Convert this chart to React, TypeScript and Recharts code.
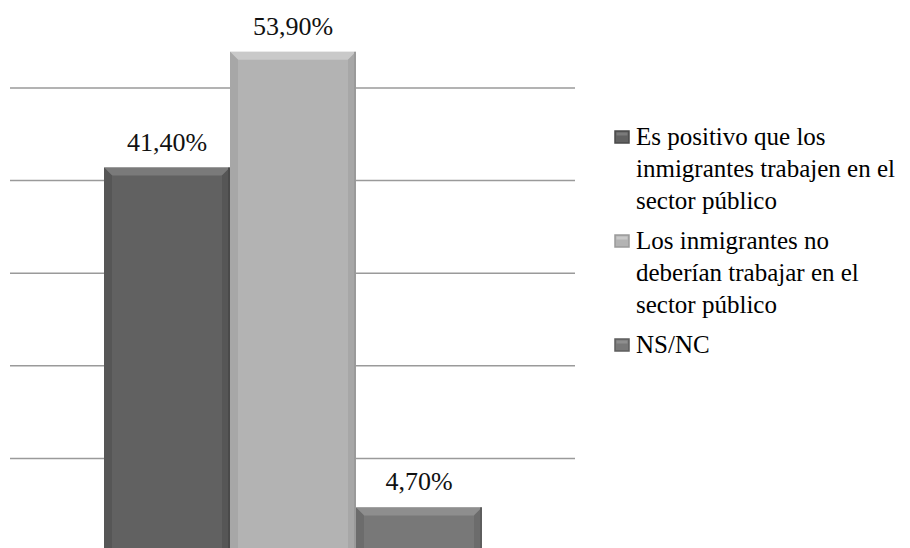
import React from 'react';
import { BarChart, Bar, XAxis, YAxis, CartesianGrid, LabelList, Legend } from 'recharts';

const categories = [''];
const seriesNames = [
  'Es positivo que los inmigrantes trabajen en el sector público',
  'Los inmigrantes no deberían trabajar en el sector público',
  'NS/NC',
];
const seriesKeys = ['positivo', 'noDeberian', 'nsnc'];
const positivoValues = [41.4];
const noDeberianValues = [53.9];
const nsncValues = [4.7];
const yTicks = [0, 10, 20, 30, 40, 50];
const legendLines = [
  ['Es positivo que los', 'inmigrantes trabajen en el', 'sector público'],
  ['Los inmigrantes no', 'deberían trabajar en el', 'sector público'],
  ['NS/NC'],
];

const FONT = 'Liberation Serif';

const colors = [
  { face: '#616161', top: '#7a7a7a', side: '#565656', edge: '#4a4a4a' },
  { face: '#b3b3b3', top: '#c9c9c9', side: '#a7a7a7', edge: '#9a9a9a' },
  { face: '#787878', top: '#8e8e8e', side: '#6c6c6c', edge: '#5e5e5e' },
];

const data = categories.map((c, i) => ({
  name: c,
  positivo: positivoValues[i],
  noDeberian: noDeberianValues[i],
  nsnc: nsncValues[i],
}));

const fmt = (v: number) => v.toFixed(2).replace('.', ',') + '%';

const makeShape = (idx: number) => (props: any) => {
  const { x, y, width, height } = props;
  if (width == null || height == null) return null;
  const c = colors[idx];
  const b = 8;
  const bot = y + height;
  return (
    <g>
      <rect x={x} y={y} width={width} height={height} fill={c.face} />
      <polygon points={`${x},${y} ${x + width},${y} ${x + width - b},${y + b} ${x + b},${y + b}`} fill={c.top} />
      <polygon points={`${x},${y} ${x + b},${y + b} ${x + b},${bot} ${x},${bot}`} fill={c.side} />
      <polygon points={`${x + width},${y} ${x + width - b},${y + b} ${x + width - b},${bot} ${x + width},${bot}`} fill={c.side} />
      <rect x={x + width - 2} y={y} width={2} height={height} fill={c.edge} />
    </g>
  );
};

const renderLabel = (props: any) => {
  const { x, y, width, value } = props;
  const cx = Number(x) + Number(width) / 2;
  const cy = Number(y) - 17;
  return (
    <text x={cx} y={cy} textAnchor="middle" fontFamily={FONT} fontSize={26} fill="#111">
      {fmt(Number(value))}
    </text>
  );
};

const LINE_H = 32;
const ITEM_GAP = 8;

const LegendContent = () => {
  let yy = 0;
  const items = legendLines.map((lines, i) => {
    const top = yy;
    yy += lines.length * LINE_H + ITEM_GAP;
    return (
      <g key={seriesKeys[i]}>
        <rect x={3} y={top + 10} width={14} height={12} fill={colors[i].face} stroke={colors[i].edge} strokeWidth={1.5} />
        <rect x={4.5} y={top + 11.5} width={11} height={3} fill={colors[i].top} />
        {lines.map((l, j) => (
          <text key={j} x={24} y={top + j * LINE_H + 24} fontFamily={FONT} fontSize={25} fill="#000">
            {l}
          </text>
        ))}
      </g>
    );
  });
  return (
    <svg width={298} height={yy} style={{ display: 'block' }}>
      {items}
    </svg>
  );
};

export default function App() {
  return (
    <div style={{ position: 'absolute', left: 0, top: 0, width: 910, height: 548, overflow: 'hidden', background: '#fff' }}>
      <BarChart
        width={910}
        height={551}
        data={data}
        margin={{ top: 0, right: 335, bottom: 0, left: 10 }}
        barGap={0}
        barCategoryGap={94}
      >
        <CartesianGrid vertical={false} stroke="#9a9a9a" strokeWidth={1.5} horizontalValues={yTicks.slice(1)} />
        <XAxis dataKey="name" hide />
        <YAxis hide domain={[0, 59.5]} ticks={yTicks} />
        <Legend
          layout="horizontal"
          align="center"
          verticalAlign="middle"
          content={<LegendContent />}
          wrapperStyle={{ left: 612, top: 121, width: 298 }}
        />
        {seriesKeys.map((k, i) => (
          <Bar key={k} dataKey={k} name={seriesNames[i]} fill={colors[i].face} isAnimationActive={false} shape={makeShape(i)}>
            <LabelList dataKey={k} content={renderLabel} />
          </Bar>
        ))}
      </BarChart>
    </div>
  );
}
